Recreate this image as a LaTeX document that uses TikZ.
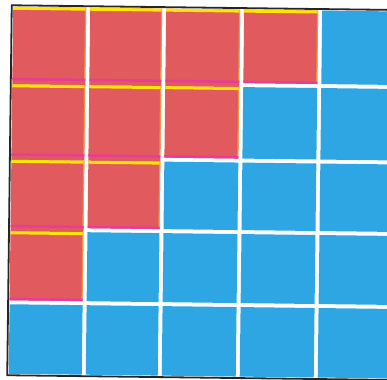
\documentclass[tikz,border=0pt]{standalone}
\definecolor{cred}{RGB}{224,90,94}
\definecolor{cblue}{RGB}{46,166,228}
\definecolor{cmag}{RGB}{232,60,150}
\definecolor{cyel}{RGB}{255,230,0}
\definecolor{corg}{RGB}{250,170,60}
\begin{document}
\begin{tikzpicture}[x=1pt,y=-1pt,
  redcell/.style={fill=cred},
  bluecell/.style={fill=cblue},
  topedge/.style={fill=cyel},
  botedge/.style={fill=cmag},
  rightedge/.style={fill=corg},
  frame/.style={draw=black!85,line width=1.8pt}]
\useasboundingbox (0,0) rectangle (387,379);
\clip (0,0) rectangle (387,379);
\fill[white] (0,0) rectangle (387,379);
\begin{scope}[rotate around={-0.7:(193,190)}]
  \draw[frame] (460,7.5) -- (9.5,7.5) -- (9.5,377.5) -- (460,377.5);
  \foreach \c/\xa/\xb in {1/11/84,2/88/160,3/164/238,4/242/316,5/320/460}{
    \foreach \r/\ya/\yb in {1/9/82.5,2/86.5/158,3/162/229.5,4/233.5/302.5,5/306.5/376}{
      \pgfmathtruncatemacro\s{\c+\r}
      \ifnum\s<6
        \ifnum\s<5
          \fill[redcell] (\xa,\ya) rectangle (\xb,\yb+4);
        \else
          \fill[redcell] (\xa,\ya) rectangle (\xb,\yb);
        \fi
        \fill[topedge] (\xa,\ya) rectangle (\xb,\ya+3);
        \fill[botedge] (\xa,\yb-2.5) rectangle (\xb,\yb);
        \fill[rightedge,opacity=0.7] (\xb-1.2,\ya) rectangle (\xb,\yb-2.5);
      \else
        \fill[bluecell] (\xa,\ya) rectangle (\xb,\yb);
      \fi
    }
  }
\end{scope}
\end{tikzpicture}
\end{document}
